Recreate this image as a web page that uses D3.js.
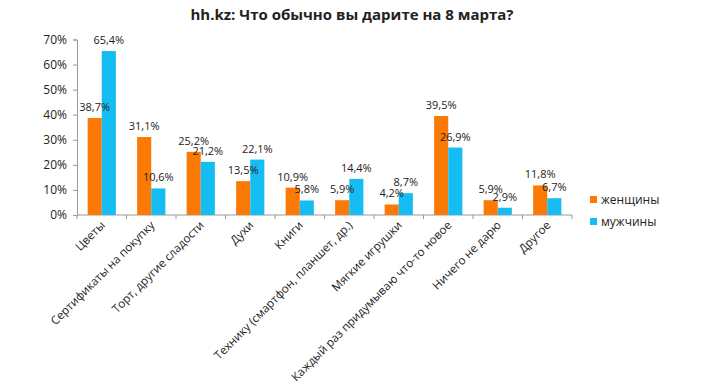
<!DOCTYPE html>
<html>
<head>
<meta charset="utf-8">
<script src="https://cdnjs.cloudflare.com/ajax/libs/d3/7.8.5/d3.min.js"></script>
<style>
  body { margin: 0; background: #fff; }
  text { font-family: "Open Sans", "Liberation Sans", sans-serif; fill: #222; }
</style>
</head>
<body>
<div id="chart"></div>
<script>
const categories = ['Цветы', 'Сертификаты на покупку', 'Торт, другие сладости', 'Духи', 'Книги',
    'Технику (смартфон, планшет, др.)', 'Мягкие игрушки', 'Каждый раз придумываю что-то новое',
    'Ничего не дарю', 'Другое'];
const seriesNames = ['женщины', 'мужчины'];
const women = [38.7, 31.1, 25.2, 13.5, 10.9, 5.9, 4.2, 39.5, 5.9, 11.8];
const men = [65.4, 10.6, 21.2, 22.1, 5.8, 14.4, 8.7, 26.9, 2.9, 6.7];
const yTicks = [0, 10, 20, 30, 40, 50, 60, 70];
const colors = ['#fa7a05', '#16bdf2'];

const width = 705, height = 389;
const svg = d3.select('#chart').append('svg')
    .attr('width', width)
    .attr('height', height);

const x = d3.scaleBand()
    .domain(categories)
    .range([77, 572])
    .paddingInner(0.43)
    .paddingOuter(0.215);

const x1 = d3.scaleBand()
    .domain(seriesNames)
    .range([0, x.bandwidth()]);

const y = d3.scaleLinear()
    .domain([0, 70])
    .range([215, 39.5]);

// title
svg.append('text')
    .attr('x', 352)
    .attr('y', 20)
    .attr('text-anchor', 'middle')
    .style('font-size', '15px')
    .style('font-weight', 'bold')
    .text('hh.kz: Что обычно вы дарите на 8 марта?');

// y axis
const yAxis = svg.append('g')
    .attr('transform', 'translate(77,0)')
    .call(d3.axisLeft(y).tickValues(yTicks).tickSize(4).tickFormat(d => d + '%'));
yAxis.selectAll('text').style('font-size', '12px').attr('dx', '-3');
yAxis.selectAll('line, path').attr('stroke', '#999');

// x axis: line with ticks at band boundaries
const step = x.step();
const xAxis = svg.append('g');
xAxis.append('line')
    .attr('x1', 77).attr('x2', 572)
    .attr('y1', y(0)).attr('y2', y(0))
    .attr('stroke', '#999');
xAxis.selectAll('line.tick')
    .data(d3.range(categories.length + 1))
    .enter()
    .append('line')
    .attr('class', 'tick')
    .attr('x1', i => 77 + i * step)
    .attr('x2', i => 77 + i * step)
    .attr('y1', y(0))
    .attr('y2', y(0) + 4)
    .attr('stroke', '#999');

xAxis.selectAll('text')
    .data(categories)
    .enter()
    .append('text')
    .attr('text-anchor', 'end')
    .attr('transform', d => `translate(${x(d) + x.bandwidth() / 2 + 4},${y(0) + 11}) rotate(-45)`)
    .style('font-size', '11.6px')
    .text(d => d);

// bars first, then all labels on top
const seriesData = [women, men];
seriesNames.forEach((s, si) => {
    svg.append('g').selectAll('rect')
        .data(seriesData[si])
        .enter()
        .append('rect')
        .attr('x', (d, i) => x(categories[i]) + x1(s))
        .attr('width', x1.bandwidth())
        .attr('y', d => y(d))
        .attr('height', d => y(0) - y(d))
        .attr('fill', colors[si]);
});
seriesNames.forEach((s, si) => {
    svg.append('g').selectAll('text')
        .data(seriesData[si])
        .enter()
        .append('text')
        .attr('x', (d, i) => x(categories[i]) + x1(s) + x1.bandwidth() / 2)
        .attr('y', d => y(d) - 7)
        .attr('text-anchor', 'middle')
        .style('font-size', '11px')
        .text(d => d.toFixed(1).replace('.', ',') + '%');
});

// legend
const legend = svg.append('g');
seriesNames.forEach((s, i) => {
    legend.append('rect')
        .attr('x', 590)
        .attr('y', 196 + i * 22)
        .attr('width', 7)
        .attr('height', 7)
        .attr('fill', colors[i]);
    legend.append('text')
        .attr('x', 601)
        .attr('y', 200 + i * 22)
        .attr('dy', '0.35em')
        .style('font-size', '12px')
        .text(s);
});
</script>
</body>
</html>
